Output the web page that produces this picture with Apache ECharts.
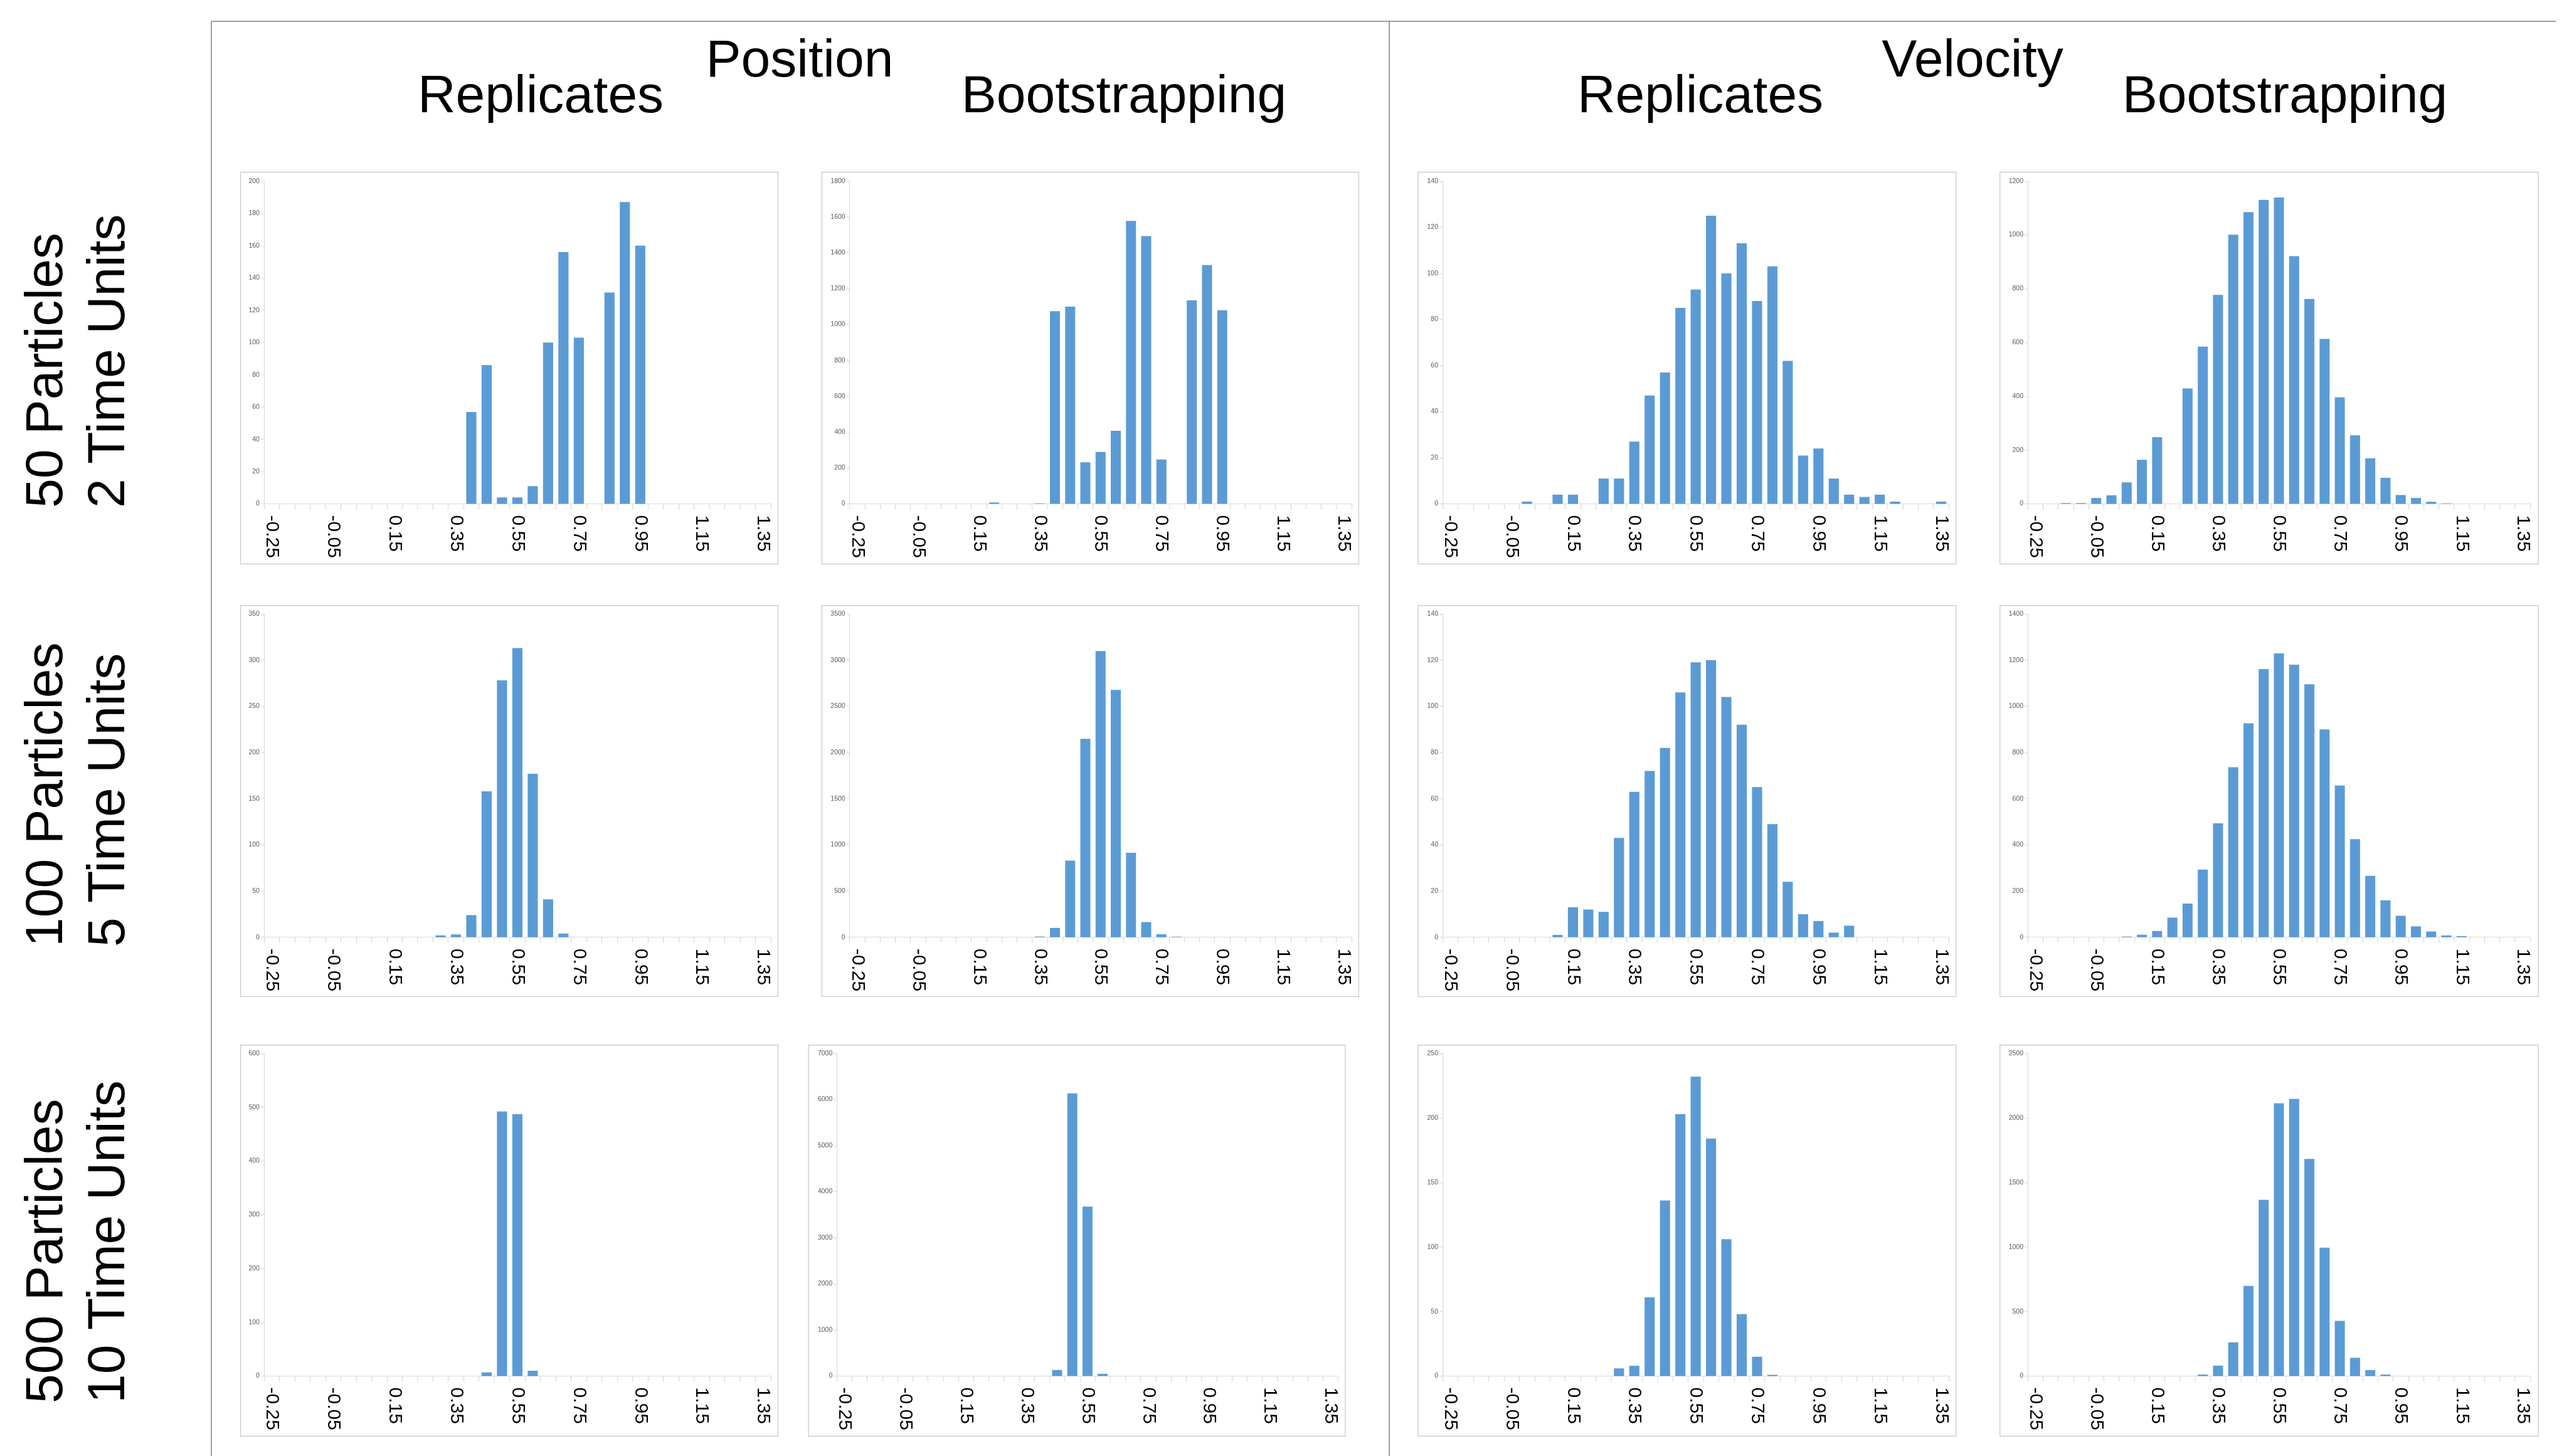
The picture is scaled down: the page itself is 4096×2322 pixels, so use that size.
<!DOCTYPE html>
<html><head><meta charset="utf-8">
<script src="https://cdn.jsdelivr.net/npm/echarts@6/dist/echarts.min.js"></script>
<style>html,body{margin:0;padding:0;background:#fff}#c{width:4096px;height:2322px}</style>
</head><body><div id="c"></div>
<script>
// ---------- DATA ----------
const categories = ['-0.25','-0.20','-0.15','-0.10','-0.05','0.00','0.05','0.10','0.15','0.20','0.25','0.30','0.35','0.40','0.45','0.50','0.55','0.60','0.65','0.70','0.75','0.80','0.85','0.90','0.95','1.00','1.05','1.10','1.15','1.20','1.25','1.30','1.35'];
const tickLabels = ['-0.25','-0.05','0.15','0.35','0.55','0.75','0.95','1.15','1.35'];

const colTitles = ['Replicates','Bootstrapping','Replicates','Bootstrapping'];
const groupTitles = ['Position','Velocity'];
const rowLabelsA = ['50 Particles','100 Particles','500 Particles'];
const rowLabelsB = ['2 Time Units','5 Time Units','10 Time Units'];

// row 1: 50 particles, 2 time units
const posRep50  = [0,0,0,0,0,0,0,0,0,0,0,0,0,57,86,4,4,11,100,156,103,0,131,187,160,0,0,0,0,0,0,0,0];
const posBoot50 = [0,0,0,0,0,0,0,0,0,8,0,0,3,1075,1100,232,290,408,1578,1493,248,0,1135,1332,1080,0,0,0,0,0,0,0,0];
const velRep50  = [0,0,0,0,0,1,0,4,4,0,11,11,27,47,57,85,93,125,100,113,88,103,62,21,24,11,4,3,4,1,0,0,1];
const velBoot50 = [0,0,3,3,22,32,80,164,248,0,429,585,777,1001,1085,1130,1139,921,762,613,396,255,169,97,33,22,8,2,0,0,0,0,0];
// row 2: 100 particles, 5 time units
const posRep100  = [0,0,0,0,0,0,0,0,0,0,0,2,3,24,158,278,313,177,41,4,0,0,0,0,0,0,0,0,0,0,0,0,0];
const posBoot100 = [0,0,0,0,0,0,0,0,0,0,0,0,8,101,829,2148,3098,2677,914,164,33,6,0,0,0,0,0,0,0,0,0,0,0];
const velRep100  = [0,0,0,0,0,0,0,1,13,12,11,43,63,72,82,106,119,120,104,92,65,49,24,10,7,2,5,0,0,0,0,0,0];
const velBoot100 = [0,0,0,0,0,0,3,11,27,85,146,293,493,736,926,1161,1229,1180,1095,900,657,425,266,160,93,47,25,8,5,0,0,0,0];
// row 3: 500 particles, 10 time units
const posRep500  = [0,0,0,0,0,0,0,0,0,0,0,0,0,0,7,492,487,10,0,0,0,0,0,0,0,0,0,0,0,0,0,0,0];
const posBoot500 = [0,0,0,0,0,0,0,0,0,0,0,0,0,0,133,6132,3677,50,0,0,0,0,0,0,0,0,0,0,0,0,0,0,0];
const velRep500  = [0,0,0,0,0,0,0,0,0,0,0,6,8,61,136,203,232,184,106,48,15,1,0,0,0,0,0,0,0,0,0,0,0];
const velBoot500 = [0,0,0,0,0,0,0,0,0,0,0,12,81,261,699,1365,2113,2147,1682,995,428,142,47,12,0,0,0,0,0,0,0,0,0];

// y-axis tick settings per panel (row-major)
const yMax  = [200,1800,140,1200, 350,3500,140,1400, 600,7000,250,2500];
const yStep = [20,200,20,200, 50,500,20,200, 100,1000,50,500];

const panelData = [posRep50,posBoot50,velRep50,velBoot50,
                   posRep100,posBoot100,velRep100,velBoot100,
                   posRep500,posBoot500,velRep500,velBoot500];

// ---------- LAYOUT ----------
const rowsY = [
  {bt:274.7, gt:288.8, gb:803.6, bb:899.3},
  {bt:965.7, gt:979.0, gb:1494.7, bb:1589.5},
  {bt:1666.6, gt:1679.9, gb:2194.6, bb:2290.3}
];
const colsX = [
  {bl:383.6, gl:420.9, gr:1228.9, br:1240.4},
  {bl:1310.4, gl:1354.7, gr:2154.8, br:2166.3},
  {bl:2261.0, gl:2300.0, gr:3107.2, br:3118.7},
  {bl:3188.7, gl:3233.0, gr:4034.0, br:4047.0}
];
const colsXRow3Col2 = {bl:1289.1, gl:1334.3, gr:2133.5, br:2145.0};

const FONT = 'Arial, "Liberation Sans", sans-serif';
const grids=[], xAxes=[], yAxes=[], series=[], graphics=[];

for (let r=0;r<3;r++){
  for (let c=0;c<4;c++){
    const i=r*4+c;
    const R=rowsY[r];
    const C=(r===2&&c===1)?colsXRow3Col2:colsX[c];
    grids.push({left:C.gl, top:R.gt, width:C.gr-C.gl, height:R.gb-R.gt, containLabel:false, outerBoundsMode:'none'});
    graphics.push({type:'rect', silent:true, z:0,
      shape:{x:C.bl, y:R.bt, width:C.br-C.bl, height:R.bb-R.bt},
      style:{fill:'none', stroke:'#c6c6c6', lineWidth:1.2}});
    xAxes.push({type:'category', gridIndex:i, data:categories, boundaryGap:true,
      axisLine:{show:true, lineStyle:{color:'#d9d9d9', width:1.2}},
      axisTick:{show:true, interval:0, length:9, lineStyle:{color:'#d9d9d9', width:1.2}},
      axisLabel:{interval:3, rotate:-90, fontSize:30, color:'#000', fontFamily:FONT, margin:18,
        formatter:v=> tickLabels.includes(v)?v:''},
      splitLine:{show:false}});
    yAxes.push({type:'value', gridIndex:i, min:0, max:yMax[i], interval:yStep[i],
      axisLine:{show:true, lineStyle:{color:'#d9d9d9', width:1.2}},
      axisTick:{show:true, length:5, lineStyle:{color:'#d9d9d9', width:1.2}},
      axisLabel:{fontSize:10.5, color:'#595959', fontFamily:FONT, margin:7, formatter:v=>String(v)},
      splitLine:{show:false}});
    series.push({type:'bar', xAxisIndex:i, yAxisIndex:i, data:panelData[i],
      barCategoryGap:'34%', itemStyle:{color:'#5B9BD5'}, silent:true});
  }
}

// table lines
const lineStyle={stroke:'#7f7f7f', lineWidth:1.5};
graphics.push({type:'line', silent:true, shape:{x1:337,y1:34,x2:337,y2:2322}, style:lineStyle});
graphics.push({type:'line', silent:true, shape:{x1:337,y1:34,x2:4075,y2:34}, style:lineStyle});
graphics.push({type:'line', silent:true, shape:{x1:2215,y1:34,x2:2215,y2:2322}, style:lineStyle});

function txt(s,x,y,rot,align){
  return {type:'text', silent:true, x:x, y:y, rotation:rot||0,
    style:{text:s, x:0, y:0, fontSize:84, fontFamily:FONT, fill:'#000',
      align:align||'center', verticalAlign:'middle',
      textAlign:align||'center', textVerticalAlign:'middle'}};
}
graphics.push(txt(groupTitles[0],1275,99));
graphics.push(txt(groupTitles[1],3145,99));
const colTitleX=[862,1792,2711,3643];
for(let c=0;c<4;c++) graphics.push(txt(colTitles[c],colTitleX[c],156));
const rowBottom=[810,1510,2238];
for(let r=0;r<3;r++){
  graphics.push(txt(rowLabelsA[r],76,rowBottom[r],Math.PI/2,'left'));
  graphics.push(txt(rowLabelsB[r],175,rowBottom[r],Math.PI/2,'left'));
}

const chart=echarts.init(document.getElementById('c'),null,{renderer:'canvas'});
chart.setOption({animation:false, backgroundColor:'#fff',
  grid:grids, xAxis:xAxes, yAxis:yAxes, series:series, graphic:graphics});
</script></body></html>
